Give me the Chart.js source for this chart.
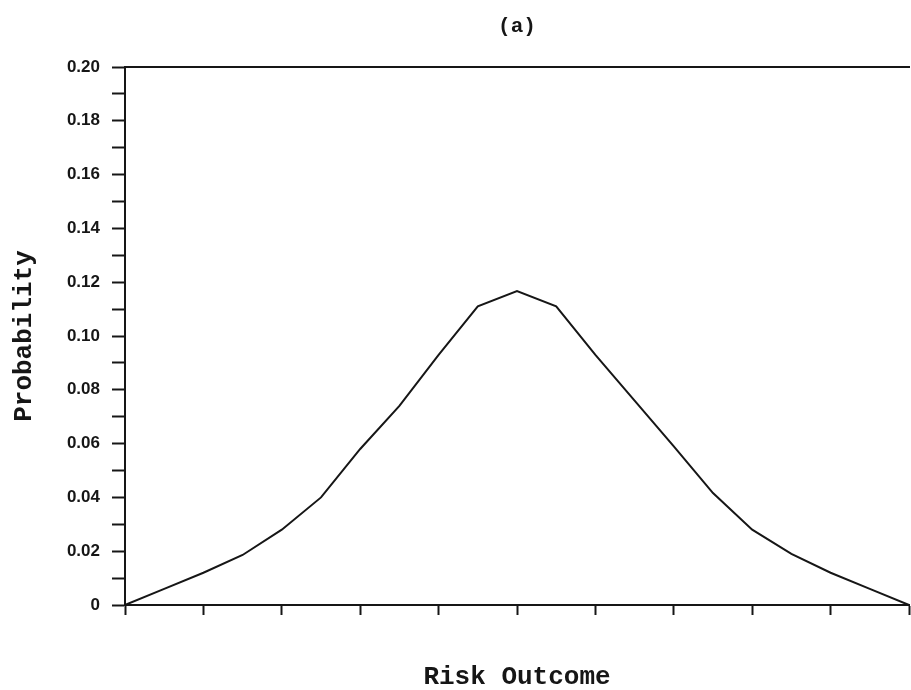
<!DOCTYPE html>
<html>
<head>
<meta charset="utf-8">
<script src="https://cdn.jsdelivr.net/npm/chart.js@4/dist/chart.umd.min.js"></script>
<style>
    body { margin: 0; background: #fff; }
    #wrap { width: 911px; height: 690px; }
</style>
</head>
<body>
<div id="wrap"><canvas id="riskChart" width="911" height="690"></canvas></div>
<script>
    // Risk outcome steps (half a tick apart) and probability
    const outcomes = [0, 1, 2, 3, 4, 5, 6, 7, 8, 9, 10, 11, 12, 13, 14, 15, 16, 17, 18, 19, 20];
    const probability = [0, 0.006, 0.012, 0.0186, 0.028, 0.040, 0.058, 0.074, 0.093, 0.111, 0.1167,
                         0.111, 0.093, 0.076, 0.059, 0.0416, 0.028, 0.019, 0.012, 0.006, 0];
    const yMin = 0;
    const yMax = 0.20;
    const yStep = 0.01;

    const ink = '#161616';
    const labelFont = { family: 'Liberation Sans', size: 17, weight: 'bold' };
    const typeFont = { family: 'Liberation Mono', size: 26, weight: 'bold', lineHeight: 1 };

    const ctx = document.getElementById('riskChart').getContext('2d');
    const riskChart = new Chart(ctx, {
        type: 'line',
        data: {
            labels: outcomes,
            datasets: [{
                label: 'Probability',
                data: probability,
                borderColor: ink,
                borderWidth: 2,
                pointRadius: 0,
                tension: 0,
                fill: false
            }]
        },
        options: {
            responsive: false,
            animation: false,
            layout: { padding: { left: 0, right: 2, top: 0, bottom: 0 } },
            plugins: {
                legend: { display: false },
                tooltip: { enabled: false },
                title: { display: false }
            },
            scales: {
                x: {
                    type: 'category',
                    offset: false,
                    afterFit: (scale) => { scale.height = 85; },
                    grid: {
                        display: true,
                        drawOnChartArea: false,
                        drawTicks: true,
                        tickLength: 10,
                        tickWidth: 2,
                        tickColor: (c) => (c.index % 2 === 0 ? ink : 'rgba(0,0,0,0)')
                    },
                    border: { display: true, color: ink, width: 2 },
                    ticks: { display: false, autoSkip: false },
                    title: {
                        display: true,
                        text: 'Risk Outcome',
                        color: ink,
                        font: typeFont,
                        padding: { top: 0, bottom: 0 }
                    }
                },
                // top frame line, carrying the "(a)" heading over the plot
                x2: {
                    type: 'category',
                    position: 'top',
                    offset: false,
                    afterFit: (scale) => { scale.height = 67; },
                    grid: { display: false, drawTicks: false },
                    border: { display: true, color: ink, width: 2 },
                    ticks: { display: false },
                    title: {
                        display: true,
                        text: '(a)',
                        color: ink,
                        font: { family: 'Liberation Mono', size: 21, weight: 'bold', lineHeight: 1.2 },
                        padding: { top: 14, bottom: 0 }
                    }
                },
                y: {
                    min: yMin,
                    max: yMax,
                    afterFit: (scale) => { scale.width = 125; },
                    grid: {
                        display: true,
                        drawOnChartArea: false,
                        drawTicks: true,
                        tickLength: 13,
                        tickWidth: 2,
                        tickColor: ink
                    },
                    border: { display: true, color: ink, width: 2 },
                    ticks: {
                        stepSize: yStep,
                        autoSkip: false,
                        color: ink,
                        font: labelFont,
                        padding: 12,
                        callback: (v) => {
                            const n = Math.round(v * 100);
                            if (n % 2 !== 0) return '';
                            return n === 0 ? '0' : v.toFixed(2);
                        }
                    },
                    title: {
                        display: true,
                        text: 'Probability',
                        color: ink,
                        font: typeFont,
                        padding: { top: 11, bottom: 0 }
                    }
                }
            }
        }
    });
</script>
</body>
</html>
